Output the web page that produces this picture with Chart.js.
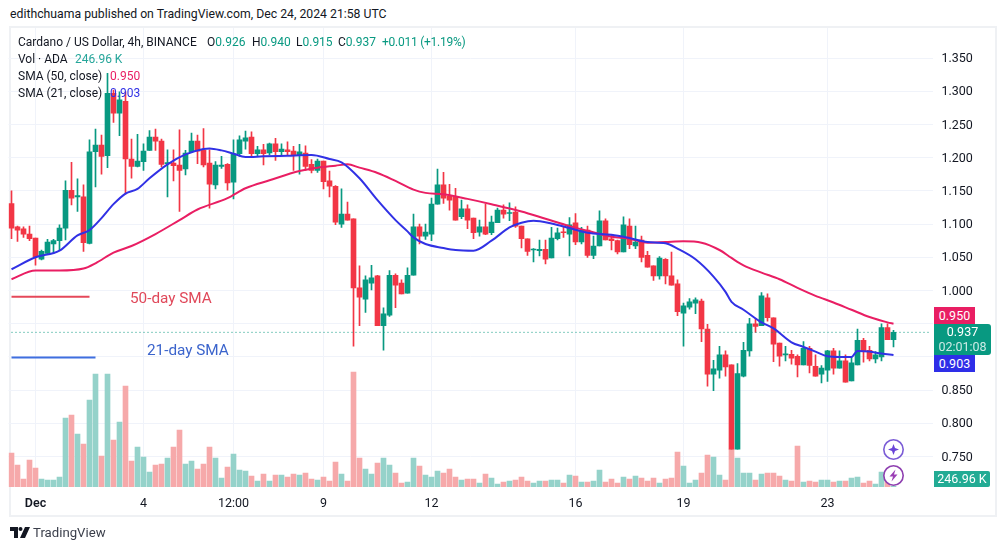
<!DOCTYPE html>
<html><head><meta charset="utf-8">
<script src="https://cdn.jsdelivr.net/npm/chart.js@4"></script>
<style>
html,body{margin:0;padding:0;background:#fff;width:1005px;height:550px;overflow:hidden}
body{position:relative;font-family:"Roboto",sans-serif;color:#131722}
canvas{position:absolute;left:0;top:0}
.t{position:absolute;white-space:nowrap;font-size:12px;line-height:16px}
#frame{position:absolute;left:9px;top:26px;width:984px;height:487px;border:2px solid #eff1f4}
.box{position:absolute;color:#fff;font-size:12.5px;text-align:center;line-height:17px}
.g{color:#089981}
svg{position:absolute}
</style></head><body>
<div class="t" style="left:10px;top:6px;font-size:12.25px">edithchuama published on TradingView.com, Dec 24, 2024 21:58 UTC</div>
<div id="frame"></div>
<canvas id="c" width="1005" height="550"></canvas>
<div class="t" style="left:18px;top:34px">Cardano / US Dollar, 4h, BINANCE</div>
<div class="t" style="left:207px;top:34px">O<span class="g">0.926</span></div>
<div class="t" style="left:252px;top:34px">H<span class="g">0.940</span></div>
<div class="t" style="left:296px;top:34px">L<span class="g">0.915</span></div>
<div class="t" style="left:338px;top:34px">C<span class="g">0.937</span></div>
<div class="t g" style="left:382px;top:34px;letter-spacing:-.25px">+0.011 (+1.19%)</div>
<div class="t" style="left:18px;top:51px">Vol · ADA</div>
<div class="t" style="left:75px;top:51px;color:#26a69a">246.96 K</div>
<div class="t" style="left:18px;top:68px">SMA (50, close)</div>
<div class="t" style="left:110px;top:68px;color:#e91e63">0.950</div>
<div class="t" style="left:18px;top:85px">SMA (21, close)</div>
<div class="t" style="left:110px;top:85px;color:#3131e5">0.903</div>
<div class="t" style="left:130px;top:289px;font-size:15.3px;line-height:18px;color:#e0485a">50-day SMA</div>
<div class="t" style="left:147px;top:341px;font-size:15.3px;line-height:18px;color:#3b64cc">21-day SMA</div>
<div class="box" style="left:934px;top:307px;width:41px;height:17px;background:#e91e63">0.950</div>
<div class="box" style="left:934px;top:324px;width:57px;height:31px;background:#089981;border-radius:0 3px 3px 0;line-height:15px;padding-top:0">0.937<br><span style="opacity:.8">02:01:08</span></div>
<div class="box" style="left:934px;top:355px;width:41px;height:17px;background:#2e2ee8">0.903</div>
<div class="box" style="left:934px;top:471px;width:56px;height:16px;line-height:16px;background:#22ab94;border-radius:0 2px 2px 0">246.96 K</div>
<svg style="left:882px;top:438px" width="23" height="23" viewBox="0 0 23 23"><circle cx="11.5" cy="11.5" r="9.7" fill="#fff" stroke="#7b5cd6" stroke-width="1.6"/><path d="M11.5 6 L13 10 L17 11.5 L13 13 L11.5 17 L10 13 L6 11.5 L10 10 Z" fill="#6a45d8"/></svg>
<svg style="left:882px;top:464px" width="23" height="23" viewBox="0 0 23 23"><circle cx="11.5" cy="11.5" r="9.7" fill="#fff" stroke="#8e3fb0" stroke-width="1.6"/><path d="M13.5 5.5 L7.5 12.5 L11 12.5 L9.5 17.5 L15.5 10.5 L12 10.5 Z" fill="#9b3fb5"/></svg>
<svg style="left:10px;top:527px" width="20" height="12" viewBox="0 0 20 12"><path d="M0 0H8V11H4V4H0Z M15 0H20L15 11H10Z" fill="#131722"/><circle cx="10.5" cy="2" r="2" fill="#131722"/></svg>
<div class="t" style="left:33px;top:524px;font-size:13.2px;line-height:18px;color:#3a3e4a">TradingView</div>
<script>
const opens=[1.131,1.096,1.093,1.085,1.079,1.047,1.056,1.070,1.075,1.094,
1.151,1.141,1.141,1.071,1.209,1.219,1.203,1.297,1.267,1.285,
1.198,1.187,1.194,1.211,1.231,1.225,1.191,1.192,1.189,1.183,
1.209,1.225,1.211,1.192,1.159,1.187,1.190,1.163,1.206,1.225,
1.231,1.206,1.212,1.207,1.221,1.209,1.212,1.210,1.203,1.207,
1.190,1.181,1.195,1.165,1.157,1.100,1.115,1.108,1.004,.987,
1.011,1.022,.947,.963,1.023,1.011,.996,1.023,1.096,1.082,
1.085,1.130,1.159,1.142,1.141,1.111,1.123,1.109,1.088,1.096,
1.087,1.102,1.121,1.116,1.118,1.097,1.078,1.061,1.060,1.062,
1.049,1.078,1.088,1.085,1.102,1.073,1.091,1.053,1.067,1.105,
1.078,1.075,1.058,1.097,1.067,1.076,1.053,1.037,1.022,1.047,
1.022,1.010,.966,.975,.981,.984,.942,.874,.880,.903,
.888,.761,.871,.909,.950,.947,.989,.959,.921,.903,
.904,.901,.888,.913,.886,.874,.880,.909,.883,.894,
.864,.888,.925,.910,.897,.900,.944,.926];
const highs=[1.150,1.097,1.096,1.097,1.079,1.061,1.077,1.077,1.099,1.165,
1.193,1.168,1.159,1.227,1.243,1.234,1.327,1.302,1.299,1.299,
1.228,1.235,1.221,1.241,1.243,1.228,1.212,1.212,1.242,1.211,
1.237,1.234,1.244,1.212,1.194,1.202,1.191,1.227,1.233,1.240,
1.239,1.217,1.220,1.222,1.229,1.221,1.224,1.217,1.220,1.218,
1.197,1.198,1.195,1.180,1.158,1.153,1.133,1.108,1.037,1.022,
1.038,1.023,.974,1.030,1.025,1.016,1.034,1.115,1.100,1.100,
1.139,1.183,1.178,1.160,1.154,1.136,1.129,1.109,1.106,1.130,
1.112,1.124,1.129,1.132,1.126,1.097,1.078,1.063,1.076,1.076,
1.095,1.094,1.096,1.110,1.116,1.095,1.097,1.082,1.120,1.108,
1.084,1.076,1.111,1.108,1.097,1.082,1.059,1.037,1.051,1.048,
1.058,1.016,.981,.988,.989,.987,.949,.895,.916,.909,
.888,.890,.922,.958,.958,.997,.995,.959,.921,.916,
.910,.903,.923,.916,.903,.887,.910,.913,.909,.903,
.900,.942,.928,.916,.908,.950,.950,.940];
const lows=[1.078,1.074,1.080,1.075,1.038,1.046,1.055,1.056,1.061,1.076,
1.129,1.119,1.059,1.070,1.156,1.175,1.185,1.253,1.233,1.145,
1.169,1.186,1.181,1.211,1.211,1.186,1.141,1.165,1.119,1.174,
1.208,1.191,1.186,1.124,1.153,1.184,1.151,1.138,1.202,1.213,
1.202,1.203,1.189,1.204,1.196,1.204,1.204,1.181,1.175,1.181,
1.177,1.178,1.153,1.141,1.099,1.095,1.106,.916,.947,.967,
1.001,.947,.910,.961,.974,.995,.996,1.023,1.070,1.077,
1.075,1.130,1.131,1.121,1.106,1.108,1.093,1.078,1.082,1.084,
1.084,1.102,1.109,1.105,1.095,1.064,1.053,1.043,1.052,1.040,
1.049,1.076,1.080,1.052,1.069,1.070,1.050,1.048,1.067,1.076,
1.061,1.055,1.058,1.063,1.063,1.043,1.035,1.015,1.017,1.010,
1.008,.962,.916,.972,.965,.923,.856,.849,.868,.871,
.761,.761,.870,.901,.937,.947,.954,.893,.886,.894,
.889,.870,.888,.876,.871,.861,.863,.874,.883,.862,
.864,.888,.892,.894,.891,.894,.926,.915];
const closes=[1.094,1.091,1.085,1.078,1.051,1.059,1.073,1.075,1.094,1.151,
1.139,1.143,1.072,1.209,1.219,1.202,1.297,1.267,1.287,1.198,
1.187,1.195,1.210,1.231,1.225,1.190,1.192,1.188,1.181,1.207,
1.225,1.210,1.189,1.160,1.189,1.189,1.162,1.206,1.227,1.230,
1.206,1.212,1.206,1.221,1.209,1.213,1.209,1.203,1.209,1.187,
1.181,1.195,1.164,1.157,1.103,1.115,1.106,1.004,.990,1.016,
1.019,.947,.965,1.023,1.008,.995,1.023,1.096,1.082,1.088,
1.130,1.159,1.139,1.136,1.106,1.123,1.106,1.087,1.096,1.085,
1.103,1.121,1.115,1.117,1.097,1.078,1.059,1.062,1.062,1.047,
1.079,1.087,1.087,1.099,1.073,1.091,1.053,1.067,1.105,1.076,
1.075,1.058,1.099,1.069,1.073,1.050,1.035,1.022,1.049,1.022,
1.008,.968,.977,.983,.986,.942,.874,.882,.903,.885,
.761,.875,.910,.950,.946,.992,.959,.919,.901,.904,
.898,.888,.913,.887,.871,.883,.909,.883,.894,.862,
.891,.925,.909,.897,.903,.944,.926,.937];
const volumesK=[10200,6600,2400,8100,5700,2400,2100,2100,3000,20700,
21600,15900,12900,26100,33900,9300,33900,14100,19500,30300,
7800,12000,9000,4500,6600,6900,8700,12000,17100,6900,
7800,5400,6900,12000,8700,2700,6000,9900,5100,4800,
3300,1800,3900,1800,3600,3600,3000,3900,3600,4200,
2400,2100,3000,1800,7500,3900,1800,34500,8700,5400,
3900,7200,8700,6600,4200,1200,1500,8700,6300,3600,
3000,4800,4200,5400,3000,2100,2400,2400,1200,3900,
2700,900,1500,1800,2100,3000,1800,1200,1800,1800,
2100,2100,1200,3600,3300,1500,1500,1800,5100,1500,
2400,1200,3000,2400,3300,2700,1800,2700,1200,2400,
2700,10500,6300,1200,2100,4200,9600,9000,3600,2100,
11400,8700,4200,4200,2100,3900,4200,4200,3300,2100,
1800,12300,1500,1800,1500,2100,2100,1500,1800,1800,
2700,3000,1200,1800,900,4500,2400,247];
const sma21Index=[0,4,8,11,13,15,17,19,21,23,26,29,32,33,35,37,39,42,46,50,53,55,58,61,64,66,67,69,72,74,77,80,83,85,87,90,93,96,100,103,106,109,111,114,117,119,120,122,125,127,130,132,134,136,138,140,141,143,145,147];
const sma21Values=[1.032,1.050,1.060,1.083,1.091,1.109,1.130,1.146,1.153,1.169,1.190,1.205,1.213,1.214,1.211,1.206,1.201,1.202,1.203,1.204,1.198,1.193,1.169,1.136,1.106,1.089,1.080,1.070,1.064,1.061,1.060,1.075,1.095,1.102,1.105,1.101,1.094,1.087,1.084,1.079,1.073,1.071,1.063,1.047,1.021,.998,.983,.971,.952,.943,.922,.915,.908,.901,.900,.900,.909,.908,.905,.903];
const sma50Index=[0,4,8,12,14,17,20,24,28,31,36,39,43,48,51,54,56,58,61,64,67,69,72,76,80,85,89,93,96,100,103,106,109,112,115,118,120,122,125,128,131,134,137,140,143,146,147];
const sma50Values=[1.017,1.030,1.030,1.033,1.041,1.057,1.067,1.085,1.106,1.122,1.139,1.154,1.166,1.180,1.185,1.188,1.190,1.185,1.177,1.165,1.152,1.147,1.145,1.138,1.130,1.119,1.108,1.097,1.090,1.081,1.078,1.072,1.073,1.074,1.072,1.061,1.049,1.038,1.027,1.017,1.004,.992,.982,.971,.960,.952,.950];
const lastClose=0.937;
const drawn50Level=0.9905, drawn50End=13;
const drawn21Level=0.899, drawn21End=14;
const priceTicks=[1.35,1.30,1.25,1.20,1.15,1.10,1.05,1.00,0.95,0.90,0.85,0.80,0.75];
const timeTickIndex=[4,22,37,52,70,94,112,136];
const timeTickLabels=["Dec","4","12:00","9","12","16","19","23"];
const slotCount=154;

const categories=Array.from({length:slotCount},(_,i)=>i);
const sparse=(idx,vals)=>{const a=new Array(slotCount).fill(null);idx.forEach((k,j)=>a[k]=vals[j]);return a;};
const up=opens.map((o,i)=>closes[i]>=o);
const candle=up.map(u=>u?'#089981':'#f23645');
const volCol=up.map(u=>u?'#95d2ca':'#f6a9aa');
const fontFam='Roboto, sans-serif';
const line=(data,color,width,order,extra)=>Object.assign({type:'line',data,borderColor:color,borderWidth:width,pointRadius:0,yAxisID:'y',order,spanGaps:true,tension:0},extra||{});
new Chart(document.getElementById('c'),{
 type:'bar',
 data:{labels:categories,datasets:[
  {data:volumesK,yAxisID:'v',backgroundColor:volCol,barThickness:5,grouped:false,order:6},
  {data:lows.map((l,i)=>[l,highs[i]]),yAxisID:'y',backgroundColor:candle,barThickness:1,grouped:false,order:5},
  {data:opens.map((o,i)=>[o,closes[i]]),yAxisID:'y',backgroundColor:candle,barThickness:5,grouped:false,minBarLength:1,order:4},
  line(categories.map(()=>lastClose),'#089981',1,3,{borderDash:[1,3]}),
  line(sparse(sma50Index,sma50Values),'#e91e63',2,2,{cubicInterpolationMode:'monotone'}),
  line(sparse(sma21Index,sma21Values),'#3131e5',2,1,{cubicInterpolationMode:'monotone'}),
  line(categories.map(i=>i<=drawn50End?drawn50Level:null),'#e5485a',2,1,{spanGaps:false}),
  line(categories.map(i=>i<=drawn21End?drawn21Level:null),'#3f6fdf',2,1,{spanGaps:false})
 ]},
 options:{
  responsive:false,animation:false,
  layout:{padding:{left:8.5,top:28,right:0,bottom:0}},
  plugins:{legend:{display:false},tooltip:{enabled:false}},
  scales:{
   x:{type:'category',
    afterBuildTicks:s=>{s.ticks=s.ticks.filter(t=>timeTickIndex.includes(t.value));},
    afterFit:s=>{s.height=63;},
    grid:{color:'#f0f3fa',offset:false,tickLength:0,drawBorder:false},border:{display:false},
    ticks:{autoSkip:false,maxRotation:0,padding:9,color:'#131722',
      font:c=>({family:fontFam,size:12.5,weight:c.tick&&c.tick.value===timeTickIndex[0]?'600':'400'}),
      callback:v=>timeTickLabels[timeTickIndex.indexOf(v)]}},
   y:{position:'right',min:0.7041,max:1.3953,
    afterBuildTicks:s=>{s.ticks=priceTicks.map(v=>({value:v}));},
    afterFit:s=>{s.width=72.5;},
    grid:{color:'#f0f3fa',tickLength:0},border:{display:false},
    ticks:{padding:9,labelOffset:1,color:'#131722',font:{family:fontFam,size:12.5},callback:v=>v.toFixed(3)}},
   v:{display:false,min:0,max:137700}
  }
 }
});
</script>
</body></html>
